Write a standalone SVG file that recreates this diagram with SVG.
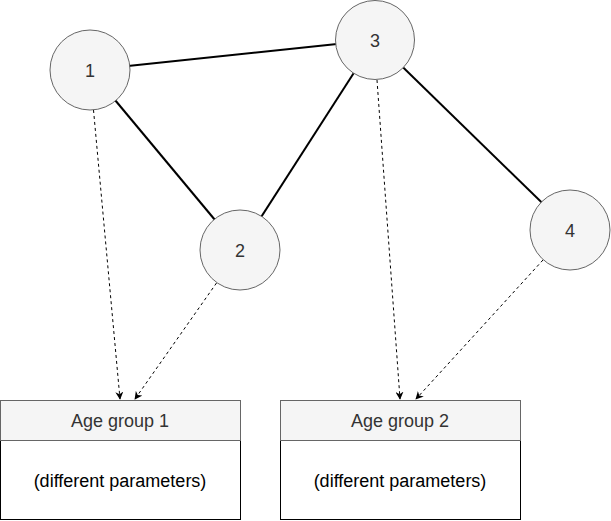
<svg xmlns="http://www.w3.org/2000/svg" width="611" height="521" viewBox="0 0 611 521">
<style>
.edge{stroke:#000;stroke-width:2;fill:none}
.dep{stroke:#000;stroke-width:1;stroke-dasharray:3 3;fill:none}
.node circle{fill:#f5f5f5;stroke:#666;stroke-width:1}
.lbl{font-family:"Liberation Sans",Arial,sans-serif;font-size:18px;fill:#333;text-anchor:middle}
.body{font-family:"Liberation Sans",Arial,sans-serif;font-size:18px;fill:#000;text-anchor:middle}
.hdr{fill:#f5f5f5;stroke:#666;stroke-width:1}
.box{fill:#fff;stroke:#000;stroke-width:1}
</style>
<defs>
<marker id="arr" viewBox="0 0 10 10" refX="9" refY="5" markerWidth="8" markerHeight="8" markerUnits="userSpaceOnUse" orient="auto">
<path d="M0,0 L10,5 L0,10 L3,5 Z" fill="#000"/>
</marker>
</defs>
<g id="connectors">
<line class="edge" x1="90" y1="70" x2="375" y2="40"/>
<line class="edge" x1="90" y1="70" x2="240" y2="250"/>
<line class="edge" x1="240" y1="250" x2="375" y2="40"/>
<line class="edge" x1="375" y1="40" x2="570" y2="230"/>
<line class="dep" x1="93.5" y1="110" x2="120" y2="399" marker-end="url(#arr)"/>
<line class="dep" x1="216.5" y1="283" x2="135" y2="399" marker-end="url(#arr)"/>
<line class="dep" x1="377" y1="80" x2="400" y2="399" marker-end="url(#arr)"/>
<line class="dep" x1="543" y1="260" x2="416" y2="399" marker-end="url(#arr)"/>
</g>
<g id="node1" class="node"><circle cx="90" cy="70" r="40"/><text class="lbl" x="90" y="77">1</text></g>
<g id="node2" class="node"><circle cx="240" cy="250" r="40"/><text class="lbl" x="240" y="257">2</text></g>
<g id="node3" class="node"><circle cx="375" cy="40" r="39.5"/><text class="lbl" x="375" y="47">3</text></g>
<g id="node4" class="node"><circle cx="570" cy="230" r="40"/><text class="lbl" x="570" y="237">4</text></g>
<g id="group1">
<rect class="box" x="0.5" y="400.5" width="240" height="119"/>
<rect class="hdr" x="0.5" y="400.5" width="240" height="40"/>
<text class="lbl" x="120" y="427">Age group 1</text>
<text class="body" x="120" y="487">(different parameters)</text>
</g>
<g id="group2">
<rect class="box" x="280.5" y="400.5" width="240" height="119"/>
<rect class="hdr" x="280.5" y="400.5" width="240" height="40"/>
<text class="lbl" x="400" y="427">Age group 2</text>
<text class="body" x="400" y="487">(different parameters)</text>
</g>
</svg>
